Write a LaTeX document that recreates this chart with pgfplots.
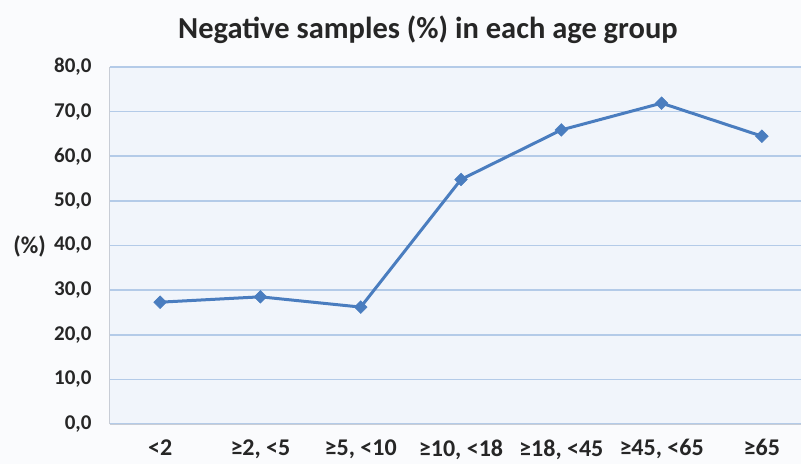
\documentclass[border=0pt]{standalone}
\usepackage{pgfplots}
\pgfplotsset{compat=1.18}
\usepackage{fontspec}
\setmainfont{Carlito}
\definecolor{pagebg}{HTML}{FAFBFD}
\definecolor{plotbg}{HTML}{F1F5FB}
\definecolor{gridc}{HTML}{B4CBE8}
\definecolor{linec}{HTML}{4A7DBF}
\definecolor{axc}{HTML}{C8CDD6}
\definecolor{txt}{HTML}{262626}
\begin{document}
\begin{tikzpicture}
\path[use as bounding box, fill=pagebg] (0pt,0pt) rectangle (801pt,-464pt);
\node[font=\fontsize{30.5}{30.5}\selectfont\bfseries, text=txt] at (428pt,-30pt) {Negative samples (\%) in each age group};
\node[font=\fontsize{24}{24}\selectfont\bfseries, text=txt, anchor=east, inner sep=0pt] at (46pt,-246pt) {(\%)};
\begin{axis}[
  at={(110pt,-424pt)}, anchor=south west,
  scale only axis, width=691pt, height=357pt,
  xmin=-0.5, xmax=6.39, ymin=0, ymax=80,
  ytick={0,10,...,80},
  xtick={0,...,6},
  xticklabels={<2, ≥2{,} <5, ≥5{,} <10, ≥10{,} <18, ≥18{,} <45, ≥45{,} <65, ≥65},
  axis background/.style={fill=plotbg},
  axis x line*=bottom, axis y line*=left,
  axis line style={axc, line width=1pt, -},
  major tick length=0pt,
  ymajorgrids, grid style={gridc, line width=1.6pt},
  yticklabel style={font=\fontsize{21}{21}\selectfont\bfseries, text=txt, xshift=-15pt},
  xticklabel style={font=\fontsize{24}{24}\selectfont\bfseries, text=txt, yshift=-12pt},
  /pgf/number format/.cd, assume math mode=true, use comma, fixed, fixed zerofill, precision=1,
  ]
\addplot[linec, line width=3pt, mark=square*, mark size=4.5pt, mark options={fill=linec, line width=0.5pt, rotate=45}]
  coordinates {(0,27.3) (1,28.5) (2,26.2) (3,54.8) (4,65.9) (5,71.9) (6,64.5)};
\end{axis}
\end{tikzpicture}
\end{document}
